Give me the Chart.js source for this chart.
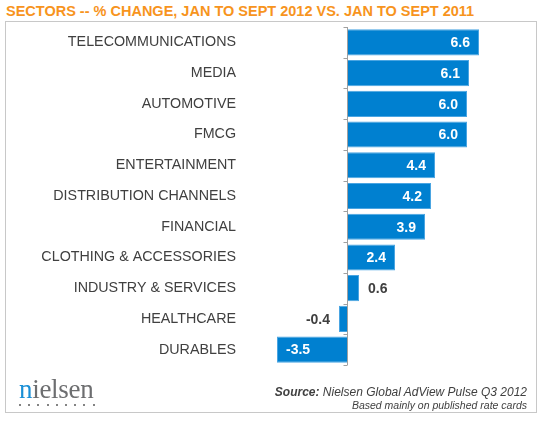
<!DOCTYPE html>
<html>
<head>
<meta charset="utf-8">
<script src="https://cdn.jsdelivr.net/npm/chart.js@4.4.1/dist/chart.umd.min.js"></script>
<style>
    html, body { margin: 0; padding: 0; background: #fff; }
    #wrap { position: relative; width: 540px; height: 422px; overflow: hidden; font-family: "Liberation Sans", Arial, sans-serif; }
    #title { position: absolute; left: 6px; top: 3px; font-size: 14.5px; line-height: 16px; font-weight: bold; color: #f7941d; white-space: nowrap; }
    #box { position: absolute; left: 5px; top: 21px; width: 532px; height: 392px; box-sizing: border-box; border: 1px solid #c8c8c8; }
    #chart { position: absolute; left: 0; top: 0; }
    #logo { position: absolute; left: 19px; top: 374px; font-family: "Liberation Serif", "Times New Roman", serif; font-size: 27px; line-height: 30px; color: #6d6e70; letter-spacing: -0.3px; }
    #logo .n { color: #1a8fd6; }
    #dots { position: absolute; left: 19px; top: 404px; display: flex; gap: 7.2px; }
    #dots span { width: 2px; height: 2px; border-radius: 1px; background: #5a5a5a; display: block; }
    #source { position: absolute; right: 13px; top: 385px; text-align: right; color: #404040; font-style: italic; white-space: nowrap; }
    #source .l1 { font-size: 12px; line-height: 14px; }
    #source .l2 { font-size: 10.5px; line-height: 13px; }
</style>
</head>
<body>
<div id="wrap">
    <div id="title">SECTORS -- % CHANGE, JAN TO SEPT 2012 VS. JAN TO SEPT 2011</div>
    <div id="box"></div>
    <canvas id="chart" width="540" height="422"></canvas>
    <div id="logo"><span class="n">n</span>ielsen</div>
    <div id="dots"><span></span><span></span><span></span><span></span><span></span><span></span><span></span><span></span><span></span></div>
    <div id="source">
        <div class="l1"><b>Source:</b> Nielsen Global AdView Pulse Q3 2012</div>
        <div class="l2">Based mainly on published rate cards</div>
    </div>
</div>
<script>
const sectors = ['TELECOMMUNICATIONS', 'MEDIA', 'AUTOMOTIVE', 'FMCG', 'ENTERTAINMENT',
    'DISTRIBUTION CHANNELS', 'FINANCIAL', 'CLOTHING & ACCESSORIES', 'INDUSTRY & SERVICES',
    'HEALTHCARE', 'DURABLES'];
const changes = [6.6, 6.1, 6.0, 6.0, 4.4, 4.2, 3.9, 2.4, 0.6, -0.4, -3.5];

// zero axis line with little ticks between categories, plus value labels
const barLabels = {
    id: 'barLabels',
    afterDatasetsDraw(chart) {
        const ctx = chart.ctx;
        const xs = chart.scales.x;
        const ys = chart.scales.y;
        const x0 = Math.round(xs.getPixelForValue(0)) + 0.5;
        const step = ys.getPixelForValue(1) - ys.getPixelForValue(0);
        ctx.save();
        ctx.strokeStyle = '#a0a0a0';
        ctx.lineWidth = 1;
        ctx.beginPath();
        ctx.moveTo(x0, ys.getPixelForValue(0) - step / 2);
        ctx.lineTo(x0, ys.getPixelForValue(sectors.length - 1) + step / 2);
        for (let i = 0; i <= sectors.length; i++) {
            const y = Math.round(ys.getPixelForValue(i) - step / 2) + 0.5;
            ctx.moveTo(x0 - 4, y);
            ctx.lineTo(x0, y);
        }
        ctx.stroke();

        ctx.font = 'bold 14px "Liberation Sans", Arial, sans-serif';
        ctx.textBaseline = 'middle';
        chart.getDatasetMeta(0).data.forEach((bar, i) => {
            const v = changes[i];
            const w = Math.abs(bar.x - bar.base);
            const txt = v.toFixed(1);
            const inside = w > 30;
            let x;
            if (v >= 0) {
                ctx.textAlign = inside ? 'right' : 'left';
                x = inside ? bar.x - 9 : bar.x + 9;
            } else {
                ctx.textAlign = inside ? 'left' : 'right';
                x = inside ? bar.x + 9 : bar.x - 9;
            }
            ctx.fillStyle = inside ? '#ffffff' : '#404040';
            ctx.fillText(txt, x, bar.y + 1);
        });
        ctx.restore();
    }
};

new Chart(document.getElementById('chart'), {
    type: 'bar',
    data: {
        labels: sectors,
        datasets: [{
            data: changes,
            backgroundColor: '#0080d0',
            borderColor: '#4aa5e2',
            borderWidth: 1,
            barPercentage: 0.85,
            categoryPercentage: 1
        }]
    },
    options: {
        indexAxis: 'y',
        responsive: false,
        animation: false,
        devicePixelRatio: 1,
        layout: { padding: { top: 27, bottom: 57, left: 0, right: 33 } },
        plugins: {
            legend: { display: false },
            tooltip: { enabled: false }
        },
        scales: {
            x: {
                display: false,
                min: -3.5,
                max: 8
            },
            y: {
                border: { display: false },
                grid: { display: false, drawTicks: false },
                ticks: {
                    padding: 41,
                    color: '#404040',
                    font: { family: '"Liberation Sans", Arial, sans-serif', size: 14.3 }
                },
                afterFit(scale) {
                    scale.width = 277;
                    scale.paddingTop = 0;
                    scale.paddingBottom = 0;
                }
            }
        }
    },
    plugins: [barLabels]
});
</script>
</body>
</html>
